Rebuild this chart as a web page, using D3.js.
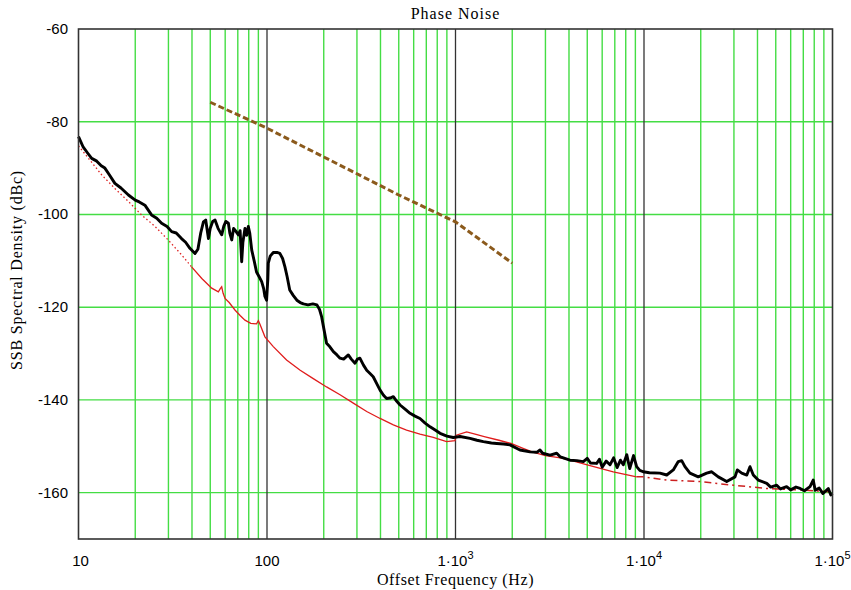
<!DOCTYPE html>
<html><head><meta charset="utf-8">
<script src="https://cdn.jsdelivr.net/npm/d3@7"></script>
<style>body{margin:0;background:#fff}svg{display:block}</style>
</head><body><svg id="c" width="851" height="590"></svg>
<script>
// ---- data ----
const xTickValues = [10, 100, 1000, 10000, 100000];
const xTickLabels = ["10", "100", "1\u00b710", "1\u00b710", "1\u00b710"];
const xTickExponents = ["", "", "3", "4", "5"];
const yTickValues = [-60, -80, -100, -120, -140, -160];
const yGridValues = [-80, -100, -120, -140, -160];

const measured = [
[10,-83.2],[10.6,-85.5],[11.2,-86.8],[11.75,-87.9],[12.5,-88.5],[13.2,-89.5],[13.8,-90.0],[14.6,-91.5],[15.6,-93.3],[16.8,-94.3],[18.4,-95.8],[20,-96.9],[21,-97.3],[22.5,-98.0],[24.4,-100.1],[26,-100.8],[27.6,-101.9],[29.5,-102.6],[31.2,-103.7],[33,-104.0],[35.2,-105.2],[37,-106.0],[39,-107.3],[41.5,-108.4],[43,-107.5],[44.5,-104],[46,-101.6],[47.3,-101.2],[48.9,-105.2],[50,-103],[51.5,-101.5],[53,-101.2],[55,-103],[57.5,-104.4],[59,-102.5],[60.5,-101.5],[62.4,-101.9],[63.5,-104],[65,-105.5],[66.5,-103],[68,-103.5],[70.5,-104.4],[72,-103.5],[73.4,-110.2],[74.5,-106],[76.4,-103],[78,-104.5],[79.6,-102.6],[81,-104],[83,-107.7],[85.5,-110],[88,-112.4],[91,-113.5],[93.7,-114.5],[96,-116],[97.5,-117.7],[99.5,-118.5],[101,-114],[101.6,-110.5],[104,-109],[108,-108.2],[113,-108.2],[117,-108.4],[121,-109.5],[124.5,-111.3],[128,-113.5],[132,-116.3],[138,-117.5],[144,-118.5],[150,-119.0],[156,-119.3],[165,-119.5],[175,-119.3],[184,-119.5],[190,-120.5],[195,-122.1],[201,-125],[207,-127.8],[215,-128.5],[225,-129.6],[235,-130.3],[244,-131.0],[255,-131.2],[270,-130.3],[280,-131.2],[293,-132.1],[302,-131.2],[311,-131.0],[325,-132.5],[338,-133.6],[352,-134.3],[366,-135.0],[382,-136.5],[398,-137.9],[415,-139.0],[431,-139.7],[450,-139.6],[468,-139.3],[488,-140.3],[508,-141.1],[540,-142.0],[574,-142.9],[610,-143.5],[648,-144.0],[690,-145.0],[733,-145.8],[780,-146.5],[828,-147.2],[900,-147.8],[973,-148.1],[1057,-147.9],[1194,-148.3],[1300,-148.7],[1405,-149.0],[1550,-149.3],[1655,-149.4],[1800,-149.5],[1947,-149.7],[2198,-150.8],[2484,-151.2],[2700,-151.3],[2806,-150.8],[2900,-151.5],[3170,-151.9],[3443,-151.5],[3600,-152.3],[4048,-153.0],[4400,-153.1],[4766,-153.3],[5000,-152.6],[5200,-153.6],[5608,-153.7],[5800,-152.8],[6000,-154.5],[6300,-153.2],[6600,-154.0],[6900,-152.5],[7200,-154.6],[7500,-153.0],[7766,-154.0],[8100,-151.8],[8400,-154.8],[8800,-152.0],[9140,-154.4],[9500,-155.2],[9900,-155.5],[10690,-155.7],[12150,-155.8],[13200,-156.2],[14300,-155.1],[15200,-153.3],[15850,-153.1],[16490,-154.4],[17530,-155.8],[19400,-156.6],[21500,-155.8],[22870,-155.5],[24780,-156.6],[27460,-157.6],[30400,-156.6],[31260,-155.1],[33000,-155.8],[35100,-156.2],[36500,-154.4],[38000,-156.2],[40350,-157.3],[44800,-158.0],[47000,-158.8],[50600,-158.4],[53000,-159.2],[57100,-158.7],[60000,-159.4],[64000,-158.8],[67300,-159.1],[71000,-159.6],[76000,-158.7],[79000,-157.3],[81000,-159.5],[85000,-159.0],[89000,-160.2],[95000,-159.1],[98000,-160.5],[100000,-160.2]
];

const modelLow = [[10,-85.2],[11.3,-87.9],[13.3,-91.5],[15.6,-94.4],[18.4,-97.2],[21.6,-100.1],[25.5,-102.6],[29.9,-105.5],[35.2,-108.7],[39.8,-111.3]];
const modelMid = [[39.8,-111.3],[45.1,-113.8],[50.9,-115.9],[55.2,-116.7],[56.5,-116],[57.5,-115.6],[58.5,-117],[59.9,-118.1],[63,-119],[67.6,-120.6],[72,-121.8],[76.4,-122.8],[82,-123.5],[88,-123.6],[90,-122.9],[92,-123.8],[97.5,-126.4],[108,-128.5],[127,-131.4],[150,-133.6],[176,-135.4],[207,-137.2],[244,-138.9],[287,-140.7],[338,-142.5],[398,-144.0],[468,-145.4],[550,-146.5],[648,-147.4],[762,-148.1],[897,-149.0],[993,-148.8],[1010,-147.6],[1146,-146.9],[1300,-147.5],[1420,-147.9],[1700,-148.7],[1970,-149.4],[2300,-150.5],[2550,-151.2],[3000,-152],[3600,-152.5],[4050,-153.0],[5000,-154],[6870,-155.5],[9140,-156.6]];
const modelHigh = [[9140,-156.6],[10000,-156.6],[13180,-157.3],[19800,-157.6],[29760,-158.4],[44770,-159.1],[67300,-159.4],[97000,-159.8],[100000,-159.8]];

const slopeLine = [[50,-75.8],[100,-81.4],[200,-87.6],[500,-95.8],[1000,-101.6],[2000,-110.5]];

// ---- chart ----
const svg = d3.select("#c");
const L = 78.5, R = 832.5, T = 29, B = 539;
const x = d3.scaleLog().domain([10, 1e5]).range([L, R]);
const y = d3.scaleLinear().domain([-170, -60]).range([B, T]);

const minor = x.ticks().filter(v => !xTickValues.includes(v));
const grid = svg.append("g");
grid.selectAll("line.v").data(minor).join("line")
  .attr("x1", d => x(d)).attr("x2", d => x(d)).attr("y1", T).attr("y2", B)
  .attr("stroke", "#44dd44").attr("stroke-width", 1.4);
grid.selectAll("line.h").data(yGridValues).join("line")
  .attr("x1", L).attr("x2", R).attr("y1", d => y(d)).attr("y2", d => y(d))
  .attr("stroke", "#44dd44").attr("stroke-width", 1.4);
grid.selectAll("line.d").data(xTickValues.slice(1, -1)).join("line")
  .attr("x1", d => x(d)).attr("x2", d => x(d)).attr("y1", T).attr("y2", B)
  .attr("stroke", "#333").attr("stroke-width", 1.3);

const line = d3.line().x(d => x(d[0])).y(d => y(d[1]));

svg.append("path").datum(modelLow).attr("d", line).attr("fill", "none")
  .attr("stroke", "#dd2020").attr("stroke-width", 1.3).attr("stroke-dasharray", "1.5,2.5");
svg.append("path").datum(modelMid).attr("d", line).attr("fill", "none")
  .attr("stroke", "#e01c1c").attr("stroke-width", 1.3);
svg.append("path").datum(modelHigh).attr("d", line).attr("fill", "none")
  .attr("stroke", "#cc2020").attr("stroke-width", 1.5).attr("stroke-dasharray", "7,4,2,4");

svg.append("path").datum(measured).attr("d", line).attr("fill", "none")
  .attr("stroke", "#000").attr("stroke-width", 2.9).attr("stroke-linejoin", "round");

svg.append("path").datum(slopeLine).attr("d", line).attr("fill", "none")
  .attr("stroke", "#8b5a1c").attr("stroke-width", 3).attr("stroke-dasharray", "6,3");

// frame
svg.append("rect").attr("x", L).attr("y", T).attr("width", R - L).attr("height", B - T)
  .attr("fill", "none").attr("stroke", "#333").attr("stroke-width", 1.6);

// tick labels
const sans = "'Liberation Sans', Arial, sans-serif";
const serif = "'Liberation Serif', 'Times New Roman', serif";
svg.selectAll("text.yt").data(yTickValues).join("text")
  .attr("x", 68).attr("y", d => y(d) + 5).attr("text-anchor", "end")
  .attr("font-family", sans).attr("font-size", 15).attr("fill", "#000")
  .text(d => "-" + Math.abs(d));

const xt = svg.selectAll("text.xt").data(xTickValues).join("text")
  .attr("x", (d, i) => x(d) + (i ? 0 : 2)).attr("y", 566).attr("text-anchor", "middle")
  .attr("font-family", sans).attr("font-size", 15).attr("fill", "#000");
xt.append("tspan").text((d, i) => xTickLabels[i]);
xt.append("tspan").attr("dy", -7).attr("font-size", 11).text((d, i) => xTickExponents[i]);

svg.append("text").attr("x", (L + R) / 2).attr("y", 19).attr("text-anchor", "middle")
  .attr("font-family", serif).attr("font-size", 16).attr("letter-spacing", 1).attr("fill", "#000").text("Phase Noise");
svg.append("text").attr("x", (L + R) / 2).attr("y", 585).attr("text-anchor", "middle")
  .attr("font-family", serif).attr("font-size", 16).attr("letter-spacing", 0.6).attr("fill", "#000").text("Offset Frequency (Hz)");
svg.append("text").attr("transform", "translate(22,270) rotate(-90)").attr("text-anchor", "middle")
  .attr("font-family", serif).attr("font-size", 16).attr("letter-spacing", 0.8).attr("fill", "#000").text("SSB Spectral Density (dBc)");
</script></body></html>
